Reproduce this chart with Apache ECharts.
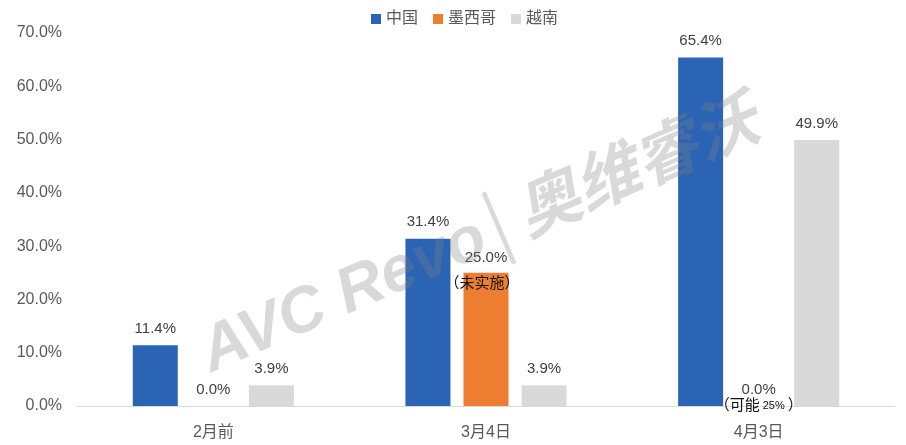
<!DOCTYPE html>
<html>
<head>
<meta charset="utf-8">
<script src="https://cdn.jsdelivr.net/npm/echarts@6/dist/echarts.min.js"></script>
<style>
html,body{margin:0;padding:0;background:#fff;}
#c{width:906px;height:445px;}
</style>
</head>
<body>
<div id="c"></div>
<script>
const categories = ['2月前', '3月4日', '4月3日'];
const seriesNames = ['中国', '墨西哥', '越南'];
const china = [11.4, 31.4, 65.4];
const mexico = [0.0, 25.0, 0.0];
const vietnam = [3.9, 3.9, 49.9];
const mexicoNotes = ['', '{n|（未实施）}', '{n|（可能}{s|25%}{n|）}'];
const yTicks = [0, 10, 20, 30, 40, 50, 60, 70];

const colors = ['#2B63B5', '#ED7D31', '#D9D9D9'];
const FONT = '"Liberation Sans", Arial, "Noto Sans CJK SC", sans-serif';

const baseLabel = {
  show: true,
  position: 'top',
  distance: 9,
  color: '#404040',
  fontSize: 15,
  fontFamily: FONT,
  formatter: p => p.value.toFixed(1) + '%'
};

const mexicoData = mexico.map((v, i) => {
  if (!mexicoNotes[i]) return v;
  const big = i === 1;
  return {
    value: v,
    label: {
      show: true,
      position: 'top',
      distance: 9,
      offset: [0, big ? 31 : 17],
      formatter: '{v|' + v.toFixed(1) + '%}\n' + mexicoNotes[i],
      rich: {
        v: { fontSize: 15, color: '#404040', fontFamily: FONT, lineHeight: big ? 30 : 16 },
        n: { fontSize: 15, color: '#111', fontFamily: FONT, lineHeight: big ? 22 : 16,
             padding: big ? [0, 8, 0, 0] : [0, 1, 0, 1] },
        s: { fontSize: 11, color: '#111', fontFamily: FONT, lineHeight: 16, padding: [0, 2, 0, 2] }
      }
    }
  };
});

const chart = echarts.init(document.getElementById('c'));
chart.setOption({
  animation: false,
  color: colors,
  textStyle: { fontFamily: FONT },
  legend: {
    top: 6,
    left: 366,
    itemWidth: 10,
    itemHeight: 10,
    itemGap: 15,
    icon: 'rect',
    textStyle: { fontSize: 16, color: '#595959', fontFamily: FONT },
    data: seriesNames
  },
  grid: { left: 77, right: 11, top: 33, bottom: 39, containLabel: false },
  xAxis: {
    type: 'category',
    data: categories,
    axisLine: { lineStyle: { color: '#D9D9D9', width: 1 } },
    axisTick: { show: false },
    axisLabel: { fontSize: 16, color: '#595959', margin: 19, fontFamily: FONT }
  },
  yAxis: {
    type: 'value',
    min: yTicks[0],
    max: yTicks[yTicks.length - 1],
    interval: 10,
    axisLine: { show: false },
    axisTick: { show: false },
    splitLine: { show: false },
    axisLabel: { fontSize: 16, color: '#595959', margin: 15, fontFamily: FONT,
      formatter: v => v.toFixed(1) + '%' }
  },
  series: [
    { name: seriesNames[0], type: 'bar', data: china, barWidth: 45, barGap: '29%', label: baseLabel },
    { name: seriesNames[1], type: 'bar', data: mexicoData, barWidth: 45, barGap: '29%', label: baseLabel },
    { name: seriesNames[2], type: 'bar', data: vietnam, barWidth: 45, barGap: '29%', label: baseLabel }
  ],
  graphic: [{
    type: 'text',
    x: 480, y: 238,
    rotation: 0.405,
    z: 100,
    silent: true,
    style: {
      text: 'AVC Revo│奥维睿沃',
      font: 'italic bold 64px "Liberation Sans", "Noto Sans CJK SC", sans-serif',
      fill: 'rgba(128,128,128,0.3)',
      align: 'center',
      verticalAlign: 'middle'
    }
  }]
});
</script>
</body>
</html>
